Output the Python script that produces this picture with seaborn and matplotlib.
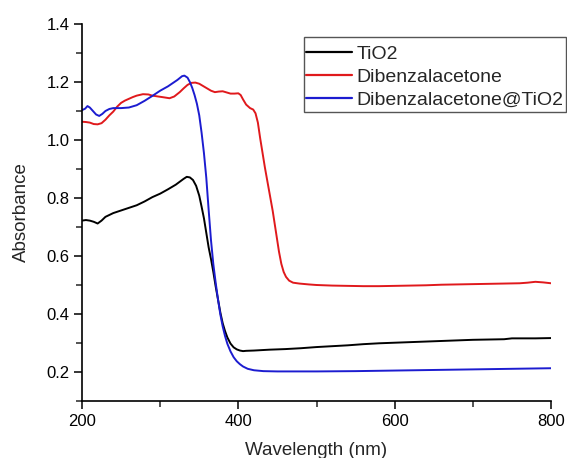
import numpy as np
import pandas as pd
import matplotlib
matplotlib.use("Agg")
import matplotlib.pyplot as plt
import seaborn as sns
from matplotlib.ticker import MultipleLocator
from matplotlib.patches import Rectangle

# ---- data ----
tio2_wl = [200, 205, 210, 215, 220, 225, 230, 240, 250, 260, 270, 280, 290, 300, 310,
           320, 325, 330, 334, 338, 342, 346, 350, 353, 356, 359, 362, 365, 368, 371,
           374, 377, 380, 383, 386, 390, 394, 398, 402, 406, 410, 420, 440, 460, 480,
           500, 520, 540, 560, 580, 600, 620, 640, 660, 680, 700, 720, 740, 750, 760,
           780, 800]
tio2_abs = [0.722, 0.724, 0.722, 0.718, 0.712, 0.722, 0.735, 0.748, 0.757, 0.766, 0.775,
            0.788, 0.803, 0.815, 0.830, 0.846, 0.856, 0.866, 0.873, 0.871, 0.862, 0.842,
            0.808, 0.770, 0.730, 0.680, 0.630, 0.590, 0.545, 0.495, 0.450, 0.405, 0.368,
            0.341, 0.319, 0.298, 0.285, 0.278, 0.274, 0.272, 0.273, 0.274, 0.277, 0.279,
            0.282, 0.286, 0.289, 0.292, 0.296, 0.299, 0.301, 0.303, 0.305, 0.307, 0.309,
            0.311, 0.312, 0.313, 0.316, 0.316, 0.316, 0.317]

dba_wl = [200, 205, 210, 215, 220, 225, 230, 235, 240, 245, 250, 255, 260, 265, 270, 278,
          285, 290, 295, 300, 305, 312, 318, 325, 330, 335, 340, 345, 350, 355, 360, 365,
          370, 375, 380, 385, 390, 395, 400, 403, 406, 410, 415, 419, 422, 425, 428, 431,
          434, 437, 440, 444, 448, 452, 455, 458, 461, 465, 470, 478, 490, 500, 520, 540,
          560, 580, 600, 620, 640, 660, 680, 700, 720, 740, 760, 770, 780, 790, 800]
dba_abs = [1.063, 1.062, 1.060, 1.055, 1.054, 1.058, 1.070, 1.085, 1.098, 1.115, 1.128,
           1.136, 1.142, 1.148, 1.153, 1.158, 1.157, 1.153, 1.151, 1.149, 1.147, 1.144,
           1.150, 1.165, 1.178, 1.190, 1.197, 1.198, 1.194, 1.186, 1.178, 1.170, 1.165,
           1.167, 1.168, 1.164, 1.160, 1.160, 1.161, 1.155, 1.140, 1.122, 1.110, 1.105,
           1.092, 1.060, 1.005, 0.955, 0.905, 0.860, 0.815, 0.755, 0.685, 0.615, 0.573,
           0.545, 0.528, 0.515, 0.508, 0.505, 0.502, 0.500, 0.498, 0.497, 0.496, 0.496,
           0.497, 0.498, 0.499, 0.501, 0.502, 0.503, 0.504, 0.505, 0.506, 0.508, 0.511,
           0.509, 0.506]

comp_wl = [200, 204, 207, 210, 214, 218, 222, 226, 230, 235, 240, 250, 260, 270, 280, 290,
           300, 310, 316, 322, 328, 331, 335, 338, 341, 344, 347, 350, 353, 356, 359, 362,
           365, 368, 371, 374, 377, 380, 383, 386, 390, 394, 398, 402, 406, 412, 420, 432,
           450, 480, 500, 550, 600, 650, 700, 750, 800]
comp_abs = [1.103, 1.108, 1.117, 1.112, 1.100, 1.088, 1.083, 1.090, 1.100, 1.107, 1.110,
            1.110, 1.112, 1.120, 1.135, 1.152, 1.170, 1.185, 1.196, 1.207, 1.220, 1.222,
            1.215, 1.200, 1.180, 1.155, 1.125, 1.085, 1.025, 0.955, 0.870, 0.760, 0.655,
            0.572, 0.508, 0.450, 0.398, 0.357, 0.324, 0.297, 0.271, 0.251, 0.237, 0.227,
            0.219, 0.211, 0.206, 0.203, 0.202, 0.202, 0.202, 0.203, 0.205, 0.207, 0.209,
            0.211, 0.213]

series_names = ["TiO2", "Dibenzalacetone", "Dibenzalacetone@TiO2"]
series_colors = ["#000000", "#e0191c", "#1c1cd0"]
x_ticks = [200, 400, 600, 800]
y_ticks = [0.2, 0.4, 0.6, 0.8, 1.0, 1.2, 1.4]

df = pd.concat([
    pd.DataFrame({"Wavelength": tio2_wl, "Absorbance": tio2_abs, "sample": series_names[0]}),
    pd.DataFrame({"Wavelength": dba_wl, "Absorbance": dba_abs, "sample": series_names[1]}),
    pd.DataFrame({"Wavelength": comp_wl, "Absorbance": comp_abs, "sample": series_names[2]}),
], ignore_index=True)

sns.set_style("ticks")
plt.rcParams["font.family"] = ["Liberation Sans", "DejaVu Sans"]

W, H = 567, 458
fig = plt.figure(figsize=(W / 100, H / 100), dpi=100)
ax = fig.add_axes([82 / W, 1 - 401 / H, (551 - 82) / W, (401 - 24) / H])

sns.lineplot(data=df, x="Wavelength", y="Absorbance", hue="sample",
             palette=dict(zip(series_names, series_colors)), hue_order=series_names,
             linewidth=1.4, ax=ax, sort=False, estimator=None)

ax.set_xlim(200, 800)
ax.set_ylim(0.1, 1.4)
ax.set_xticks(x_ticks)
ax.set_yticks(y_ticks)
ax.xaxis.set_minor_locator(MultipleLocator(100))
ax.yaxis.set_minor_locator(MultipleLocator(0.1))
ax.tick_params(axis="both", which="major", direction="out", length=6, width=1.1,
               labelsize=12, colors="black", pad=3)
ax.tick_params(axis="both", which="minor", direction="out", length=4, width=1.1)
sns.despine(ax=ax)
for s in ["left", "bottom"]:
    ax.spines[s].set_linewidth(1.2)
    ax.spines[s].set_color("black")

ax.set_xlabel("Wavelength (nm)", fontsize=13.5, labelpad=10)
ax.set_ylabel("Absorbance", fontsize=13.5, labelpad=12)

leg = ax.legend(loc="center left", bbox_to_anchor=(304 / W, 1 - 77 / H),
                bbox_transform=fig.transFigure, borderaxespad=0, frameon=False,
                fontsize=14, handlelength=2.36, handletextpad=0.25,
                borderpad=0.1, labelspacing=0.26, title=None)
for line in leg.get_lines():
    line.set_linewidth(1.6)

frame = Rectangle((304 / W, 1 - 112 / H), (566 - 304) / W, (112 - 37) / H,
                  transform=fig.transFigure, fill=False, edgecolor="#555555",
                  linewidth=1.0, zorder=10)
fig.add_artist(frame)

fig.savefig("out.png", dpi=100)
